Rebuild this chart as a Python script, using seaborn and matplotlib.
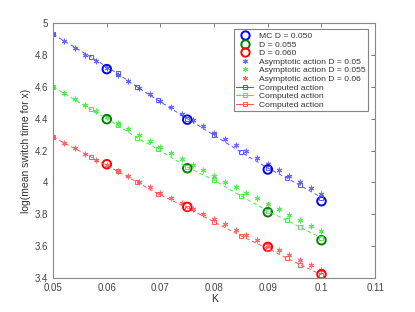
import numpy as np
import pandas as pd
import matplotlib
matplotlib.use("Agg")
import matplotlib.pyplot as plt
import seaborn as sns
from matplotlib.lines import Line2D

sns.set_style("white")
plt.rcParams['font.family'] = ['Liberation Sans', 'DejaVu Sans']

# Monte Carlo points
mc_k = [0.06, 0.075, 0.09, 0.1]
mc_d050 = [4.711, 4.394, 4.081, 3.882]
mc_d055 = [4.397, 4.089, 3.813, 3.637]
mc_d060 = [4.114, 3.846, 3.595, 3.423]

# asymptotic action (stars)
asy_k = [0.050, 0.052, 0.054, 0.056, 0.058, 0.060, 0.062, 0.064, 0.066,
         0.068, 0.070, 0.072, 0.074, 0.076, 0.078, 0.080, 0.082, 0.084,
         0.086, 0.088, 0.090, 0.092, 0.094, 0.096, 0.098, 0.100]
asy_d050 = [4.930, 4.887, 4.844, 4.802, 4.760, 4.718, 4.676, 4.635, 4.594,
            4.553, 4.512, 4.472, 4.431, 4.391, 4.352, 4.312, 4.273, 4.234,
            4.195, 4.156, 4.118, 4.080, 4.042, 4.005, 3.967, 3.930]
asy_d055 = [4.600, 4.561, 4.522, 4.484, 4.446, 4.408, 4.370, 4.333, 4.295,
            4.258, 4.221, 4.185, 4.148, 4.112, 4.076, 4.040, 4.005, 3.969,
            3.934, 3.899, 3.865, 3.830, 3.796, 3.762, 3.729, 3.695]
asy_d060 = [4.285, 4.249, 4.213, 4.178, 4.143, 4.108, 4.073, 4.038, 4.004,
            3.970, 3.936, 3.902, 3.869, 3.835, 3.802, 3.769, 3.737, 3.704,
            3.672, 3.640, 3.608, 3.577, 3.545, 3.514, 3.483, 3.453]

# computed action (squares, dashed)
comp_k = [0.05, 0.057, 0.062, 0.0657, 0.0695, 0.075, 0.08, 0.085, 0.09,
          0.0935, 0.096, 0.1]
comp_d050 = [4.930, 4.788, 4.684, 4.598, 4.516, 4.400, 4.296, 4.190, 4.090,
             4.028, 3.982, 3.905]
comp_d055 = [4.600, 4.458, 4.359, 4.279, 4.209, 4.095, 4.014, 3.915, 3.820,
             3.763, 3.720, 3.650]
comp_d060 = [4.285, 4.160, 4.070, 4.000, 3.930, 3.840, 3.752, 3.664, 3.585,
             3.526, 3.484, 3.420]

x_ticks = [0.05, 0.06, 0.07, 0.08, 0.09, 0.1, 0.11]
x_labels = ["0.05", "0.06", "0.07", "0.08", "0.09", "0.1", "0.11"]
y_ticks = [3.4, 3.6, 3.8, 4.0, 4.2, 4.4, 4.6, 4.8, 5.0]
y_labels = ["3.4", "3.6", "3.8", "4", "4.2", "4.4", "4.6", "4.8", "5"]

mc_cols = ["#0000ff", "#008000", "#ff0000"]
asy_cols = ["#6a6aff", "#55ee55", "#ff6a6a"]
comp_cols = ["#5555ff", "#44ee44", "#ff5555"]
star = (6, 2, 0)

fig = plt.figure(figsize=(4.15, 3.12), dpi=100)
ax = fig.add_axes([0.128, 0.109, 0.776, 0.817])

comps = [comp_d050, comp_d055, comp_d060]
asys = [asy_d050, asy_d055, asy_d060]
mcs = [mc_d050, mc_d055, mc_d060]

for vals, c in zip(comps, comp_cols):
    sns.lineplot(x=comp_k, y=vals, ax=ax, color=c, lw=0.7, linestyle=(0, (4, 3)),
                 marker='s', markersize=3.5, markerfacecolor='none',
                 markeredgecolor=c, markeredgewidth=0.7, sort=False)
for vals, c in zip(asys, asy_cols):
    sns.scatterplot(x=asy_k, y=vals, ax=ax, color=c, marker=star, s=12,
                    linewidth=0.8, edgecolor=c)
for vals, c in zip(mcs, mc_cols):
    sns.scatterplot(x=mc_k, y=vals, ax=ax, facecolor='none', edgecolor=c,
                    marker='o', s=38, linewidth=1.4)

ax.set_xlim(0.05, 0.11)
ax.set_ylim(3.4, 5.0)
ax.set_xticks(x_ticks)
ax.set_xticklabels(x_labels)
ax.set_yticks(y_ticks)
ax.set_yticklabels(y_labels)
ax.tick_params(direction='in', length=3, width=0.6, labelsize=7,
               colors='#666666', top=True, right=True, labelcolor='#444444')
for sp in ax.spines.values():
    sp.set_color('#888888')
    sp.set_linewidth(0.8)
ax.set_xlabel("K", fontsize=7.5, color='#333333', labelpad=1)
ax.set_ylabel("log(mean switch time for x)", fontsize=7.5, color='#333333', labelpad=3)

labels = ["MC D = 0.050", "D = 0.055", "D = 0.060",
          "Asymptotic action D = 0.05", "Asymptotic action D = 0.055",
          "Asymptotic action D = 0.06",
          "Computed action", "Computed action", "Computed action"]
handles = []
for c in mc_cols:
    handles.append(Line2D([], [], ls='none', marker='o', markersize=6,
                          markerfacecolor='none', markeredgecolor=c, markeredgewidth=1.4))
for c in asy_cols:
    handles.append(Line2D([], [], ls='none', marker=star, markersize=3.5,
                          color=c, markeredgewidth=0.8))
for c in comp_cols:
    handles.append(Line2D([], [], color=c, lw=0.8, marker='s', markersize=3.5,
                          markerfacecolor='none', markeredgecolor=c, markeredgewidth=0.7))
leg = ax.legend(handles, labels, loc='upper right', bbox_to_anchor=(0.979, 0.975),
                fontsize=6.1, frameon=True, fancybox=False, handlelength=2.0,
                labelspacing=0.08, borderpad=0.3, handletextpad=0.7,
                borderaxespad=0.0)
leg.get_frame().set_edgecolor('#666666')
leg.get_frame().set_linewidth(0.8)
for t in leg.get_texts():
    t.set_color('#333333')

fig.savefig("out.png", dpi=100)
